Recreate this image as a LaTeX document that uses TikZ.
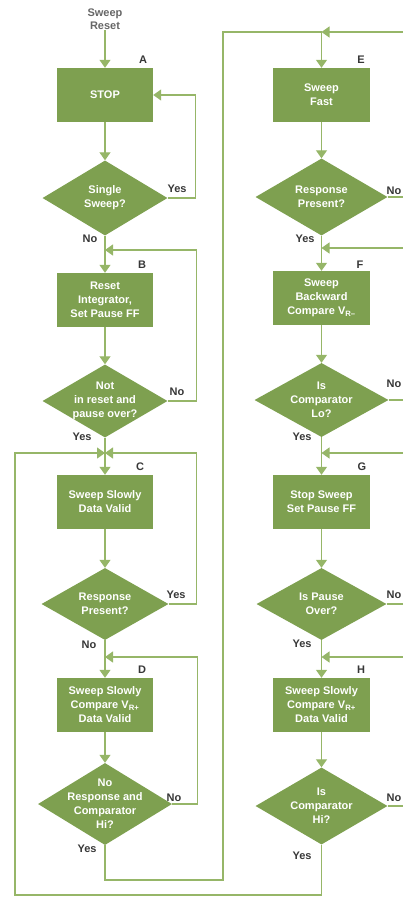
\documentclass[tikz,border=0pt]{standalone}
\usepackage{fontspec}
\setmainfont{Liberation Sans}
\usetikzlibrary{arrows.meta,shapes.geometric}
\definecolor{boxgreen}{RGB}{126,160,80}
\definecolor{linegreen}{RGB}{150,182,104}
\definecolor{labgray}{RGB}{55,55,55}
\begin{document}
\begin{tikzpicture}[x=1pt,y=-1pt,
  box/.style={fill=boxgreen, minimum width=96pt, minimum height=54pt, inner sep=1pt,
    align=center, text=white, font=\bfseries\fontsize{11}{14}\selectfont},
  dia/.style={diamond, fill=boxgreen, inner sep=0pt,
    label={[text=white, align=center, inner sep=0pt, font=\bfseries\fontsize{11}{14}\selectfont]center:#1}},
  conn/.style={draw=linegreen, line width=1.3pt},
  arr/.style={conn, -{Triangle[width=11pt,length=8pt]}},
  yn/.style={text=labgray, inner sep=0pt, font=\bfseries\fontsize{11}{13}\selectfont},
  top/.style={text=black!60, inner sep=0pt, align=center, font=\bfseries\fontsize{11}{13}\selectfont}
]
\useasboundingbox (0,0) rectangle (403,907);
% ---------- left column ----------
\node[top] (reset) at (105,19) {Sweep\\Reset};
\node[box] (A) at (105,95) {STOP};
\node[dia={Single\\Sweep?}, minimum width=125pt, minimum height=75pt] (d1) at (105,198) {};
\node[box] (B) at (105,300) {Reset\\Integrator,\\Set Pause FF};
\node[dia={Not\\in reset and\\pause over?}, minimum width=125pt, minimum height=73pt] (d2) at (105,401) {};
\node[box] (C) at (105,502) {Sweep Slowly\\Data Valid};
\node[dia={Response\\Present?}, minimum width=127pt, minimum height=72pt] (d3) at (105,604) {};
\node[box] (D) at (105,705) {Sweep Slowly\\Compare V\textsubscript{R+}\\Data Valid};
\node[dia={No\\Response and\\Comparator\\Hi?}, minimum width=134pt, minimum height=82pt] (d4) at (105,804) {};
% ---------- right column ----------
\node[box, minimum width=97pt] (E) at (321.5,95) {Sweep\\Fast};
\node[dia={Response\\Present?}, minimum width=132pt, minimum height=77pt] (e1) at (321.5,197) {};
\node[box, minimum width=97pt] (F) at (321.5,298) {Sweep\\Backward\\Compare V\textsubscript{R–}};
\node[dia={Is\\Comparator\\Lo?}, minimum width=134pt, minimum height=74pt] (f1) at (321.5,400) {};
\node[box, minimum width=97pt] (G) at (321.5,502) {Stop Sweep\\Set Pause FF};
\node[dia={Is Pause\\Over?}, minimum width=130pt, minimum height=72pt] (g1) at (321.5,604) {};
\node[box, minimum width=97pt] (H) at (321.5,705) {Sweep Slowly\\Compare V\textsubscript{R+}\\Data Valid};
\node[dia={Is\\Comparator\\Hi?}, minimum width=132pt, minimum height=77pt] (h1) at (321.5,806) {};
% ---------- letters ----------
\node[yn] (lA) at (143,60) {A};
\node[yn] (lB) at (142,265) {B};
\node[yn] (lC) at (140,467) {C};
\node[yn] (lD) at (142,670) {D};
\node[yn] (lE) at (361,60) {E};
\node[yn] (lF) at (360,265) {F};
\node[yn] (lG) at (362,467) {G};
\node[yn] (lH) at (361,670) {H};
% ---------- yes / no ----------
\node[yn] (y1) at (177,189) {Yes};
\node[yn] (n1) at (90,239) {No};
\node[yn] (n2) at (177,392) {No};
\node[yn] (y2) at (82,437) {Yes};
\node[yn] (y3) at (176,595) {Yes};
\node[yn] (n3) at (89,645) {No};
\node[yn] (n4) at (174,798) {No};
\node[yn] (y4) at (87,849) {Yes};
\node[yn] (n5) at (394,191) {No};
\node[yn] (y5) at (305,239) {Yes};
\node[yn] (n6) at (394,384) {No};
\node[yn] (y6) at (302,437) {Yes};
\node[yn] (n7) at (394,595) {No};
\node[yn] (y7) at (302,644) {Yes};
\node[yn] (n8) at (394,798) {No};
\node[yn] (y8) at (302,856) {Yes};
% ---------- junctions ----------
\coordinate (jB) at (105,250);
\coordinate (jC) at (105,453);
\coordinate (jD) at (105,657);
\coordinate (jE) at (321.5,32);
\coordinate (jF) at (321.5,248);
\coordinate (jG) at (321.5,453);
\coordinate (jH) at (321.5,657);
\coordinate (bl) at (15,895);
\coordinate (br) at (223,880);
% ---------- connectors, left ----------
\draw[arr] (reset) -- (A);
\draw[arr] (A) -- (d1);
\draw[arr] (d1) -- (B);
\draw[arr] (d1.east) -- ++(28,0) |- (A.east);
\draw[arr] (B) -- (d2);
\draw[arr] (d2.east) -- ++(28.5,0) |- (jB);
\draw[arr] (d2) -- (C);
\draw[arr] (d3.east) -- ++(27.5,0) |- (jC);
\draw[arr] (h1.south) |- (bl) |- (jC);
\draw[arr] (C) -- (d3);
\draw[arr] (d3) -- (D);
\draw[arr] (D) -- (d4);
\draw[arr] (d4.east) -- ++(25,0) |- (jD);
\draw[conn] (d4.south) |- (br) |- (jE);
% ---------- connectors, right ----------
\draw[arr] (e1.east) -- ++(20,0) |- (jE);
\draw[arr] (jE) -- (E);
\draw[arr] (E) -- (e1);
\draw[arr] (e1) -- (F);
\draw[arr] (F) -- (f1);
\draw[arr] (f1.east) -- ++(20,0) |- (jF);
\draw[arr] (f1) -- (G);
\draw[arr] (G) -- (g1);
\draw[arr] (g1.east) -- ++(20,0) |- (jG);
\draw[arr] (g1) -- (H);
\draw[arr] (H) -- (h1);
\draw[arr] (h1.east) -- ++(20,0) |- (jH);
\end{tikzpicture}
\end{document}
